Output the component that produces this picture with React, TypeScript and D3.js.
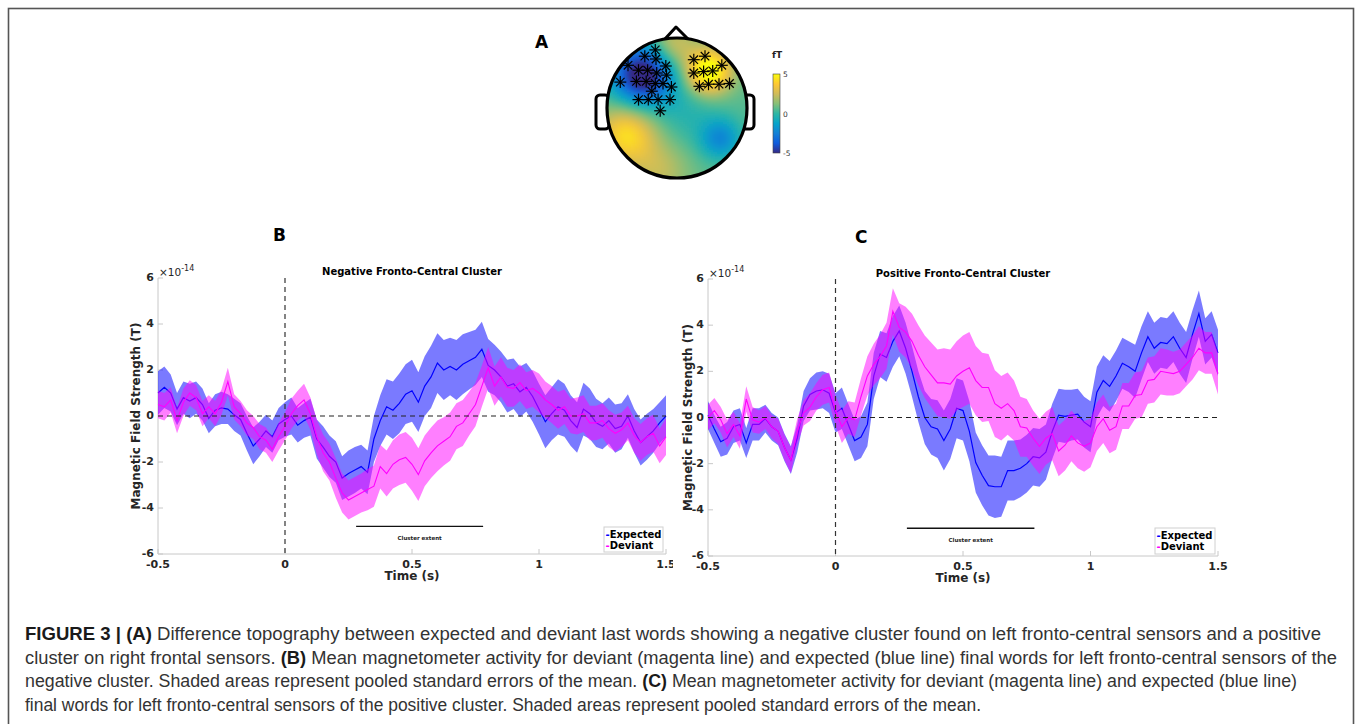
import React from 'react';
import * as d3 from 'd3';

// ---------- data ----------
const TIME_START = -0.5;
const TIME_STEP = 0.025;

const bExpected = [
  1.0, 1.25, 1.0, 0.3, 0.8, 0.65, 0.8, 0.5, -0.1, 0.25, 0.35, 0.3, 0.05, -0.15, -0.75, -1.3, -1.0, -0.65, -0.9, -0.35,
  -0.15, 0.0, -0.4, -0.2, -0.05, -1.0, -1.35, -1.75, -2.0, -2.7, -2.5, -2.35, -2.2, -2.45, -1.0, -0.2,
  0.4, 0.25, 0.55, 0.95, 1.1, 0.6, 1.3, 1.7, 2.3, 2.0, 2.15, 2.0, 2.25, 2.4, 2.55, 2.9, 2.2,
  2.0, 1.7, 1.3, 1.4, 1.05, 1.25, 0.85, 0.3, -0.25, 0.1, 0.4, 0.25, -0.2, -0.5, 0.3, 0.1, -0.3, -0.45, -0.2, -0.55, -0.45, 0.0, -0.65, -1.15, -0.9, -0.65, -0.3, 0.0,
];
const bExpectedSE = [
  0.95, 0.9, 0.8, 0.7, 0.7, 0.75, 0.7, 0.7, 0.65, 0.7, 0.7, 0.65, 0.7, 0.7, 0.75, 0.8, 0.75, 0.7, 0.7, 0.7,
  0.75, 0.8, 0.75, 0.75, 0.8, 0.85, 0.9, 0.9, 0.9, 0.95, 1.0, 1.0, 0.95, 0.95, 1.0, 1.1,
  1.2, 1.25, 1.3, 1.3, 1.35, 1.3, 1.3, 1.35, 1.3, 1.3, 1.25, 1.3, 1.3, 1.25, 1.2, 1.2, 1.15,
  1.1, 1.1, 1.15, 1.1, 1.1, 1.05, 1.1, 1.1, 1.15, 1.15, 1.2, 1.15, 1.1, 1.1, 1.15, 1.1, 1.05, 1.0, 1.0, 1.05, 1.0, 0.95, 0.95, 1.0, 1.0, 0.95, 0.9, 0.9,
];
const bDeviant = [
  0.5, 0.4, 0.7, -0.2, 0.6, 1.0, 0.8, 0.1, 0.4, 0.1, 0.6, 1.5, 0.4, 0.1, -0.3, -0.5, -0.9, -1.05, -1.45, -0.9,
  -0.45, 0.1, 0.45, 0.7, 0.1, -0.9, -1.6, -2.0, -2.7, -3.35, -3.65, -3.5, -3.35, -3.2, -3.05, -2.2,
  -2.5, -2.1, -1.9, -1.8, -2.1, -2.55, -1.95, -1.6, -1.3, -1.1, -0.9, -0.45, -0.3, 0.1, 0.5, 1.3, 2.1,
  1.3, 1.7, 1.25, 1.2, 1.45, 1.1, 1.2, 1.0, 0.7, 0.5, 0.25, 0.4, 0.0, 0.0, 0.1, -0.3, -0.3, -0.2, -0.55, -0.75, -0.6, -0.3, -0.85, -1.15, -0.9, -0.75, -1.3, -0.9,
];
const bDeviantSE = [
  0.6, 0.6, 0.55, 0.55, 0.6, 0.55, 0.55, 0.55, 0.5, 0.55, 0.55, 0.6, 0.55, 0.55, 0.55, 0.5, 0.55, 0.55, 0.55, 0.6,
  0.6, 0.65, 0.65, 0.7, 0.7, 0.75, 0.8, 0.8, 0.85, 0.85, 0.85, 0.85, 0.85, 0.9, 0.9, 0.95,
  1.0, 1.05, 1.1, 1.1, 1.15, 1.15, 1.1, 1.1, 1.1, 1.05, 1.05, 1.0, 1.0, 0.95, 0.95, 0.9, 0.9,
  0.85, 0.85, 0.85, 0.8, 0.8, 0.8, 0.8, 0.85, 0.8, 0.8, 0.8, 0.75, 0.75, 0.8, 0.8, 0.75, 0.75, 0.75, 0.8, 0.8, 0.75, 0.75, 0.75, 0.8, 0.8, 0.8, 0.75, 0.8,
];
const cExpected = [
  0.1, -0.5, -1.05, -0.9, -0.4, -0.3, -1.1, -0.3, -0.3, -0.05, -0.4, -0.6, -1.3, -1.85, -0.9, 0.5, 1.0, 1.15, 1.2, 1.05,
  0.2, 0.4, -0.3, -1.0, -0.85, -0.3, 1.8, 2.75, 2.6, 3.3, 3.75, 3.0, 2.0, 0.9, 0.0, -0.4,
  -0.5, -1.0, -0.5, 0.4, 0.3, -0.6, -1.95, -2.5, -2.95, -3.0, -3.0, -2.3, -2.3, -2.2, -2.0, -1.7, -1.75,
  -1.5, -0.6, 0.1, 0.05, 0.1, 0.15, -0.2, -0.4, 1.1, 1.6, 1.35, 1.8, 2.35, 2.2, 2.0, 2.8, 3.5, 3.0, 3.25, 3.2, 3.5, 3.0, 2.6, 3.6, 4.5, 3.3, 3.6, 2.8,
];
const cExpectedSE = [
  0.6, 0.6, 0.65, 0.7, 0.7, 0.7, 0.65, 0.7, 0.7, 0.6, 0.6, 0.6, 0.6, 0.6, 0.6, 0.65, 0.7, 0.8, 0.8, 0.85,
  0.85, 0.9, 0.9, 0.9, 0.9, 0.95, 1.0, 1.0, 1.05, 1.1, 1.1, 1.1, 1.1, 1.1, 1.15, 1.2,
  1.25, 1.3, 1.3, 1.3, 1.3, 1.3, 1.3, 1.3, 1.3, 1.35, 1.3, 1.3, 1.3, 1.25, 1.25, 1.25, 1.25,
  1.2, 1.2, 1.15, 1.15, 1.1, 1.1, 1.1, 1.1, 1.1, 1.1, 1.1, 1.1, 1.1, 1.1, 1.15, 1.15, 1.1, 1.1, 1.1, 1.1, 1.1, 1.1, 1.1, 1.05, 1.0, 1.0, 1.0, 1.0,
];
const cDeviant = [
  0.0, 0.3, -0.1, -0.7, -0.3, -0.8, 0.8, -0.1, -0.2, 0.0, -0.4, -0.6, -1.3, -1.85, -0.6, 0.2, 0.45, 0.9, 1.2, 1.3,
  0.3, -0.4, 0.0, -0.1, 0.9, 1.8, 2.3, 2.65, 3.1, 4.6, 3.9, 3.7, 3.3, 2.7, 2.2, 1.85,
  1.5, 1.5, 1.45, 1.8, 2.0, 2.15, 1.6, 1.3, 1.3, 0.6, 0.4, 0.6, 0.3, -0.4, -0.45, -0.9, -1.25,
  -0.9, -0.7, -1.45, -1.2, -0.8, -1.1, -1.25, -1.1, -0.4, -0.05, -0.55, -0.4, 0.5, 0.5, 0.95, 1.0, 1.6, 1.65, 2.0, 1.95, 1.9, 2.0, 2.3, 2.6, 3.0, 2.8, 2.8, 1.9,
];
const cDeviantSE = [
  0.55, 0.55, 0.55, 0.6, 0.55, 0.55, 0.55, 0.55, 0.5, 0.5, 0.5, 0.55, 0.55, 0.55, 0.55, 0.55, 0.6, 0.6, 0.65, 0.65,
  0.65, 0.7, 0.7, 0.75, 0.8, 0.85, 0.9, 0.95, 1.0, 1.0, 1.05, 1.1, 1.2, 1.3, 1.35, 1.4,
  1.45, 1.5, 1.5, 1.5, 1.55, 1.55, 1.5, 1.5, 1.45, 1.45, 1.4, 1.35, 1.3, 1.3, 1.25, 1.2, 1.2,
  1.15, 1.15, 1.1, 1.1, 1.1, 1.1, 1.1, 1.05, 1.05, 1.05, 1.0, 1.0, 1.0, 1.0, 1.0, 1.0, 1.0, 1.0, 1.0, 1.0, 0.95, 0.95, 0.95, 0.95, 0.95, 0.9, 0.9, 0.9,
];

const xTicks = [-0.5, 0, 0.5, 1, 1.5];
const xTickLabels = ['-0.5', '0', '0.5', '1', '1.5'];
const yTicks = [-6, -4, -2, 0, 2, 4, 6];
const yTickLabels = ['-6', '-4', '-2', '0', '2', '4', '6'];
const legendLabels = ['Expected', 'Deviant'];
const clusterExtent = [0.28, 0.78];
const clusterLevel = -4.8;

// topography (normalised head coordinates, value in fT)
const parulaStops = ['#352a87', '#0f5cdd', '#1481d6', '#06a4ca', '#2eb7a4', '#87bf77', '#d1bb59', '#fec832', '#f9fb0e'];
const topoBase = 0.6;
const topoSources = [
  { x: -0.5, y: -0.47, amp: -6.4, s: 0.3 },
  { x: 0.45, y: -0.52, amp: 5.2, s: 0.23 },
  { x: -0.72, y: 0.38, amp: 3.6, s: 0.3 },
  { x: 0.62, y: 0.44, amp: -2.7, s: 0.2 },
  { x: -0.05, y: -0.9, amp: 2.0, s: 0.22 },
  { x: -0.25, y: 0.9, amp: 1.6, s: 0.3 },
  { x: 0.15, y: 0.05, amp: -0.9, s: 0.35 },
];
const negSensors = [
  [-0.31, -0.83], [-0.46, -0.74], [-0.3, -0.7], [-0.7, -0.61], [-0.55, -0.54], [-0.42, -0.54], [-0.29, -0.5],
  [-0.16, -0.6], [-0.81, -0.37], [-0.58, -0.38], [-0.44, -0.38], [-0.31, -0.35], [-0.2, -0.35], [-0.08, -0.3],
  [-0.15, -0.47], [-0.55, -0.12], [-0.41, -0.12], [-0.27, -0.12], [-0.1, -0.12], [-0.24, 0.04], [-0.36, -0.24],
];
const posSensors = [
  [0.24, -0.69], [0.4, -0.74], [0.64, -0.61], [0.24, -0.5], [0.38, -0.52], [0.51, -0.53],
  [0.32, -0.31], [0.45, -0.34], [0.6, -0.34], [0.75, -0.35],
];
const colorbarTicks = [5, 0, -5];

const captionLines = [
  [['FIGURE 3 | (A)', true], [' Difference topography between expected and deviant last words showing a negative cluster found on left fronto-central sensors and a positive', false]],
  [['cluster on right frontal sensors. ', false], ['(B)', true], [' Mean magnetometer activity for deviant (magenta line) and expected (blue line) final words for left fronto-central sensors of the', false]],
  [['negative cluster. Shaded areas represent pooled standard errors of the mean. ', false], ['(C)', true], [' Mean magnetometer activity for deviant (magenta line) and expected (blue line)', false]],
  [['final words for left fronto-central sensors of the positive cluster. Shaded areas represent pooled standard errors of the mean.', false]],
] as [string, boolean][][];

const times = bExpected.map((_, i) => TIME_START + i * TIME_STEP);

const BLUE = '#0000ff';
const MAGENTA = '#ff00ff';
const AX = '#c8c8c8';
const TXT = '#262626';
const FONT = '"DejaVu Sans", Verdana, sans-serif';

type PanelCfg = {
  x0: number; x1: number; yTop: number; yBot: number; title: string; titleY: number;
  legend: [number, number, number, number]; ylabX: number; clipRight?: number; id: string;
};

function Panel({ cfg, exp, expSE, dev, devSE }: { cfg: PanelCfg; exp: number[]; expSE: number[]; dev: number[]; devSE: number[] }) {
  const x = d3.scaleLinear().domain([-0.5, 1.5]).range([cfg.x0, cfg.x1]);
  const y = d3.scaleLinear().domain([-6, 6]).range([cfg.yBot, cfg.yTop]);
  const area = (m: number[], se: number[]) =>
    d3.area<number>().x((_, i) => x(times[i])).y0((d, i) => y(d - se[i])).y1((d, i) => y(d + se[i]))(m) || '';
  const line = (m: number[]) => d3.line<number>().x((_, i) => x(times[i])).y((d) => y(d))(m) || '';
  const [lx, ly, lw, lh] = cfg.legend;
  return (
    <g clipPath={cfg.clipRight ? `url(#clip-${cfg.id})` : undefined}>
      {cfg.clipRight && (
        <defs>
          <clipPath id={`clip-${cfg.id}`}>
            <rect x={0} y={0} width={cfg.clipRight} height={724} />
          </clipPath>
        </defs>
      )}
      {/* axes */}
      <line x1={cfg.x0} x2={cfg.x0} y1={cfg.yTop} y2={cfg.yBot} stroke={AX} strokeWidth={1} />
      <line x1={cfg.x0} x2={cfg.x1} y1={cfg.yBot} y2={cfg.yBot} stroke={AX} strokeWidth={1} />
      {xTicks.map((t) => (
        <line key={`xt${t}`} x1={x(t)} x2={x(t)} y1={cfg.yBot} y2={cfg.yBot - 5} stroke={AX} strokeWidth={1} />
      ))}
      {yTicks.map((t) => (
        <line key={`yt${t}`} x1={cfg.x0} x2={cfg.x0 + 5} y1={y(t)} y2={y(t)} stroke={AX} strokeWidth={1} />
      ))}
      {xTicks.map((t, i) => (
        <text key={`xl${t}`} x={x(t)} y={cfg.yBot + 13.5} textAnchor="middle" fontFamily={FONT} fontWeight="bold" fontSize={11} fill={TXT}>
          {xTickLabels[i]}
        </text>
      ))}
      {yTicks.map((t, i) => (
        <text key={`yl${t}`} x={cfg.x0 - 4} y={y(t) + 3} textAnchor="end" fontFamily={FONT} fontWeight="bold" fontSize={11} fill={TXT}>
          {yTickLabels[i]}
        </text>
      ))}
      <text x={cfg.x0 + 1} y={cfg.yTop - 2} fontFamily={FONT} fontSize={10.5} fill={TXT}>
        ×10<tspan dy={-5} fontSize={8}>-14</tspan>
      </text>
      <text x={(cfg.x0 + cfg.x1) / 2} y={cfg.yBot + 26} textAnchor="middle" fontFamily={FONT} fontWeight="bold" fontSize={12} fill={TXT}>
        Time (s)
      </text>
      <text
        transform={`translate(${cfg.ylabX},${y(0)}) rotate(-90)`}
        textAnchor="middle"
        fontFamily={FONT}
        fontWeight="bold"
        fontSize={12}
        fill={TXT}
      >
        Magnetic Field Strength (T)
      </text>
      <text x={(cfg.x0 + cfg.x1) / 2} y={cfg.titleY} textAnchor="middle" fontFamily={FONT} fontWeight="bold" fontSize={10} fill="#000">
        {cfg.title}
      </text>
      {/* data */}
      <path d={area(exp, expSE)} fill={BLUE} fillOpacity={0.52} stroke="none" />
      <path d={line(exp)} fill="none" stroke={BLUE} strokeWidth={1.2} />
      <path d={area(dev, devSE)} fill={MAGENTA} fillOpacity={0.5} stroke="none" />
      <path d={line(dev)} fill="none" stroke={MAGENTA} strokeWidth={1.1} />
      {/* reference lines */}
      <line x1={cfg.x0} x2={cfg.x1} y1={y(0)} y2={y(0)} stroke="#222" strokeWidth={1.2} strokeDasharray="5,4" />
      <line x1={x(0)} x2={x(0)} y1={cfg.yTop} y2={cfg.yBot} stroke="#333" strokeWidth={1.2} strokeDasharray="5,4" />
      {/* cluster extent */}
      <line x1={x(clusterExtent[0])} x2={x(clusterExtent[1])} y1={y(clusterLevel)} y2={y(clusterLevel)} stroke="#111" strokeWidth={1.4} />
      <text x={(x(clusterExtent[0]) + x(clusterExtent[1])) / 2} y={y(clusterLevel) + 14} textAnchor="middle" fontFamily={FONT} fontWeight="bold" fontSize={5.5} fill="#222">
        Cluster extent
      </text>
      {/* legend */}
      <rect x={lx} y={ly} width={lw} height={lh} fill="#fff" stroke="#d0d0d0" strokeWidth={1} />
      {legendLabels.map((lab, i) => (
        <text key={lab} x={lx + 1.5} y={ly + 10.5 + i * 11} fontFamily={FONT} fontWeight="bold" fontSize={10} fill="#000">
          <tspan fill={i === 0 ? BLUE : MAGENTA}>-</tspan>
          {lab}
        </text>
      ))}
    </g>
  );
}

const HEAD = { cx: 677, cy: 108, r: 70 };

function Topo() {
  const color = d3.scaleSequential(d3.interpolateRgbBasis(parulaStops)).domain([-5, 5]).clamp(true);
  const hx = d3.scaleLinear().domain([-1, 1]).range([HEAD.cx - HEAD.r, HEAD.cx + HEAD.r]);
  const hy = d3.scaleLinear().domain([-1, 1]).range([HEAD.cy - HEAD.r, HEAD.cy + HEAD.r]);
  const step = 2;
  const cells: React.ReactNode[] = [];
  for (let py = HEAD.cy - HEAD.r - 2; py < HEAD.cy + HEAD.r + 2; py += step) {
    for (let px = HEAD.cx - HEAD.r - 2; px < HEAD.cx + HEAD.r + 2; px += step) {
      const nx = hx.invert(px + step / 2);
      const ny = hy.invert(py + step / 2);
      if (nx * nx + ny * ny > 1.12) continue;
      let v = topoBase;
      for (const s of topoSources) v += s.amp * Math.exp(-((nx - s.x) ** 2 + (ny - s.y) ** 2) / (2 * s.s * s.s));
      cells.push(<rect key={`${px}_${py}`} x={px} y={py} width={step + 0.4} height={step + 0.4} fill={color(v)} />);
    }
  }
  const star = (sx: number, sy: number, k: string) => {
    const cx = hx(sx), cy = hy(sy), a = 6, b = a * 0.7071;
    return (
      <g key={k} stroke="#000" strokeWidth={1.2}>
        <line x1={cx - a} x2={cx + a} y1={cy} y2={cy} />
        <line x1={cx} x2={cx} y1={cy - a} y2={cy + a} />
        <line x1={cx - b} x2={cx + b} y1={cy - b} y2={cy + b} />
        <line x1={cx - b} x2={cx + b} y1={cy + b} y2={cy - b} />
      </g>
    );
  };
  const cb = { x: 773, y: 74, w: 7, h: 79 };
  const cbScale = d3.scaleLinear().domain([5, -5]).range([cb.y, cb.y + cb.h]);
  return (
    <g>
      <defs>
        <clipPath id="headClip">
          <circle cx={HEAD.cx} cy={HEAD.cy} r={HEAD.r} />
        </clipPath>
        <linearGradient id="parula" x1="0" y1="1" x2="0" y2="0">
          {parulaStops.map((c, i) => (
            <stop key={c} offset={i / (parulaStops.length - 1)} stopColor={c} />
          ))}
        </linearGradient>
        <filter id="soft" x="-5%" y="-5%" width="110%" height="110%">
          <feGaussianBlur stdDeviation="1.2" />
        </filter>
      </defs>
      <rect x={596} y={95} width={13} height={34} rx={4} fill="#fff" stroke="#000" strokeWidth={3} />
      <rect x={741} y={95} width={13} height={34} rx={4} fill="#fff" stroke="#000" strokeWidth={3} />
      <path d={`M${HEAD.cx - 13},${HEAD.cy - 68} L${HEAD.cx - 1},${HEAD.cy - 81} L${HEAD.cx + 12},${HEAD.cy - 68} Z`} fill="#fff" stroke="#000" strokeWidth={3} strokeLinejoin="round" />
      <circle cx={HEAD.cx} cy={HEAD.cy} r={HEAD.r} fill="#fff" />
      <g clipPath="url(#headClip)">
        <g filter="url(#soft)">{cells}</g>
      </g>
      <circle cx={HEAD.cx} cy={HEAD.cy} r={HEAD.r} fill="none" stroke="#000" strokeWidth={3.2} />
      {negSensors.map((s, i) => star(s[0], s[1], `n${i}`))}
      {posSensors.map((s, i) => star(s[0], s[1], `p${i}`))}
      <rect x={cb.x} y={cb.y} width={cb.w} height={cb.h} fill="url(#parula)" stroke="#444" strokeWidth={0.6} />
      {colorbarTicks.map((t) => (
        <text key={t} x={cb.x + cb.w + 3} y={cbScale(t) + 3} fontFamily={FONT} fontSize={7.5} fill="#333">
          {t}
        </text>
      ))}
      <text x={772} y={58} fontFamily={FONT} fontSize={9} fontWeight="bold" fill="#222">fT</text>
    </g>
  );
}

const panelB: PanelCfg = {
  id: 'B', x0: 158, x1: 666, yTop: 278, yBot: 554, title: 'Negative Fronto-Central Cluster', titleY: 275,
  legend: [604, 527, 59, 25], ylabX: 140, clipRight: 673,
};
const panelC: PanelCfg = {
  id: 'C', x0: 708, x1: 1218, yTop: 279, yBot: 556, title: 'Positive Fronto-Central Cluster', titleY: 277,
  legend: [1155, 528, 60, 26], ylabX: 692,
};

export default function App() {
  const capX = 25;
  const capY = [640, 663.5, 687, 710.5];
  const capLen = [1296, 1312, 1272, 956];
  return (
    <svg width={1358} height={724} style={{ position: 'absolute', left: 0, top: 0, background: '#fff' }}>
      <rect x={0} y={0} width={1358} height={724} fill="#fff" />
      <rect x={8.5} y={8.5} width={1345} height={740} fill="none" stroke="#555" strokeWidth={1.6} />
      <text x={535} y={48} fontFamily={FONT} fontWeight="bold" fontSize={17} fill="#000">A</text>
      <text x={273} y={241} fontFamily={FONT} fontWeight="bold" fontSize={17} fill="#000">B</text>
      <text x={855} y={243} fontFamily={FONT} fontWeight="bold" fontSize={17} fill="#000">C</text>
      <Topo />
      <Panel cfg={panelB} exp={bExpected} expSE={bExpectedSE} dev={bDeviant} devSE={bDeviantSE} />
      <Panel cfg={panelC} exp={cExpected} expSE={cExpectedSE} dev={cDeviant} devSE={cDeviantSE} />
      {captionLines.map((parts, li) => (
        <text
          key={li}
          x={capX}
          y={capY[li]}
          fontFamily='"Liberation Sans", Arial, sans-serif'
          fontSize={17.5}
          fill="#333"
          textLength={capLen[li]}
          lengthAdjust="spacingAndGlyphs"
        >
          {parts.map(([s, b], k) => (
            <tspan key={k} fontWeight={b ? 'bold' : 'normal'} fill={b ? '#1a1a1a' : '#333'}>
              {s}
            </tspan>
          ))}
        </text>
      ))}
    </svg>
  );
}
